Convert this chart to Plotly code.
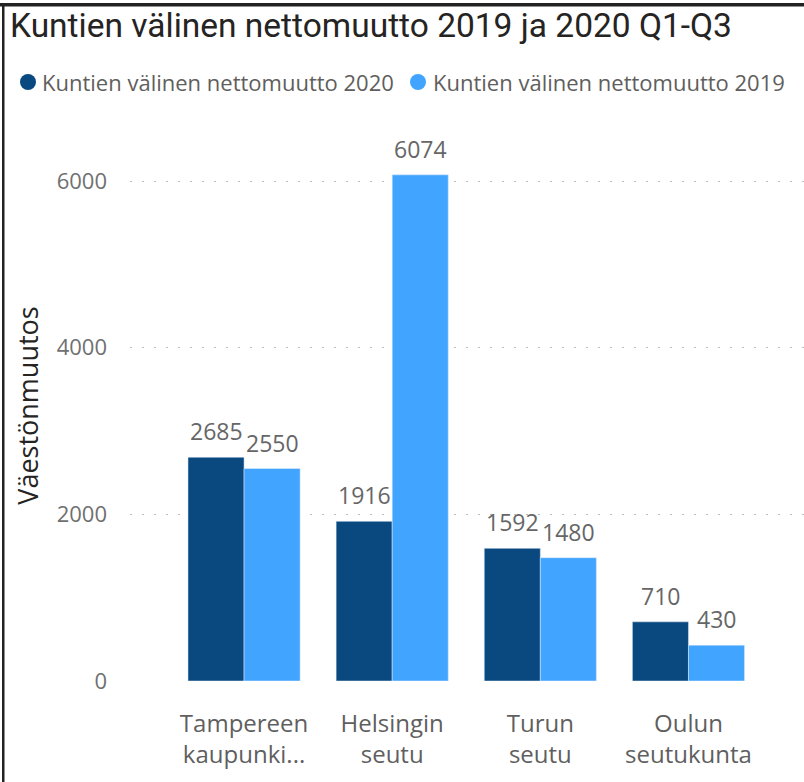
import plotly.graph_objects as go

categories = ["Tampereen<br>kaupunki...", "Helsingin<br>seutu", "Turun<br>seutu", "Oulun<br>seutukunta"]
series_2020_name = "Kuntien välinen nettomuutto 2020"
series_2019_name = "Kuntien välinen nettomuutto 2019"
values_2020 = [2685, 1916, 1592, 710]
values_2019 = [2550, 6074, 1480, 430]
y_ticks = [0, 2000, 4000, 6000]

DARK = "#0A4880"
LIGHT = "#41A5FF"
FONT = "Open Sans"
TITLE_FONT = "Roboto"

W, H = 804, 782
L, R, T, B = 130, 0, 130, 101
pw, ph = W - L - R, H - T - B
X_RANGE = [-0.77, 3.78]
BARGAP = 0.243


def px2x(px):
    return (px - L) / pw


def py2y(py):
    return (H - B - py) / ph


fig = go.Figure()
fig.add_trace(go.Bar(x=categories, y=values_2020, name=series_2020_name, marker_color=DARK,
                     showlegend=False))
fig.add_trace(go.Bar(x=categories, y=values_2019, name=series_2019_name, marker_color=LIGHT,
                     showlegend=False))

# value labels above bars
cat_px = pw / (X_RANGE[1] - X_RANGE[0])
half_bar = cat_px * (1 - BARGAP) / 4
annotations = []
for vals, sign in ((values_2020, -1), (values_2019, 1)):
    for c, v in zip(categories, vals):
        annotations.append(dict(x=c, y=v, xref="x", yref="y", text=str(v), showarrow=False,
                                xanchor="center", yanchor="bottom", xshift=sign * half_bar, yshift=8,
                                font=dict(size=23, color="#666666", family=FONT)))

# legend (circles + labels)
shapes = []
for cx, name, col, tx in ((28, series_2020_name, DARK, 40), (418, series_2019_name, LIGHT, 431)):
    r = 8
    shapes.append(dict(type="circle", xref="paper", yref="paper", x0=px2x(cx - r), x1=px2x(cx + r),
                       y0=py2y(82 + r), y1=py2y(82 - r), fillcolor=col, line=dict(width=0)))
    annotations.append(dict(x=px2x(tx), y=py2y(82), xref="paper", yref="paper", text=name,
                            showarrow=False, xanchor="left", yanchor="middle",
                            font=dict(size=22, color="#605E5C", family=FONT)))

# frame lines (top and left)
shapes.append(dict(type="rect", xref="paper", yref="paper", x0=px2x(0), x1=px2x(W),
                   y0=py2y(6.5), y1=py2y(3), fillcolor="#222222", line=dict(width=0), layer="above"))
shapes.append(dict(type="rect", xref="paper", yref="paper", x0=px2x(2), x1=px2x(4.5),
                   y0=py2y(H), y1=py2y(3), fillcolor="#222222", line=dict(width=0), layer="above"))

fig.update_layout(
    width=W, height=H,
    margin=dict(l=L, r=R, t=T, b=B, pad=0),
    paper_bgcolor="white", plot_bgcolor="white",
    barmode="group", bargap=BARGAP, bargroupgap=0,
    showlegend=False,
    font=dict(family=FONT, color="#666666"),
    title=dict(text="Kuntien välinen nettomuutto 2019 ja 2020 Q1-Q3", x=10 / W, xanchor="left",
               y=1 - 25 / H, yanchor="middle",
               font=dict(size=33.5, color="#252423", family=TITLE_FONT)),
    xaxis=dict(range=X_RANGE, showgrid=False, showline=False, ticks="", ticklabelstandoff=26,
               tickfont=dict(size=24, color="#5F5F5F", family=FONT), fixedrange=True),
    yaxis=dict(range=[0, 6612], tickvals=y_ticks, ticktext=[str(v) for v in y_ticks],
               showgrid=True, gridcolor="#BBBBBB", griddash="2px,10px", gridwidth=1.3,
               zeroline=False, showline=False, ticks="", ticklabelstandoff=22,
               tickfont=dict(size=22, color="#707070", family=FONT),
               title=dict(text="Väestönmuutos", font=dict(size=27, color="#252423", family=FONT),
                          standoff=10)),
    shapes=shapes,
    annotations=annotations,
)

post = (
    "document.documentElement.style.margin='0';"
    "document.body.style.margin='0';document.body.style.padding='0';"
)
fig.write_html("out.html", config={"displayModeBar": False}, post_script=post)
